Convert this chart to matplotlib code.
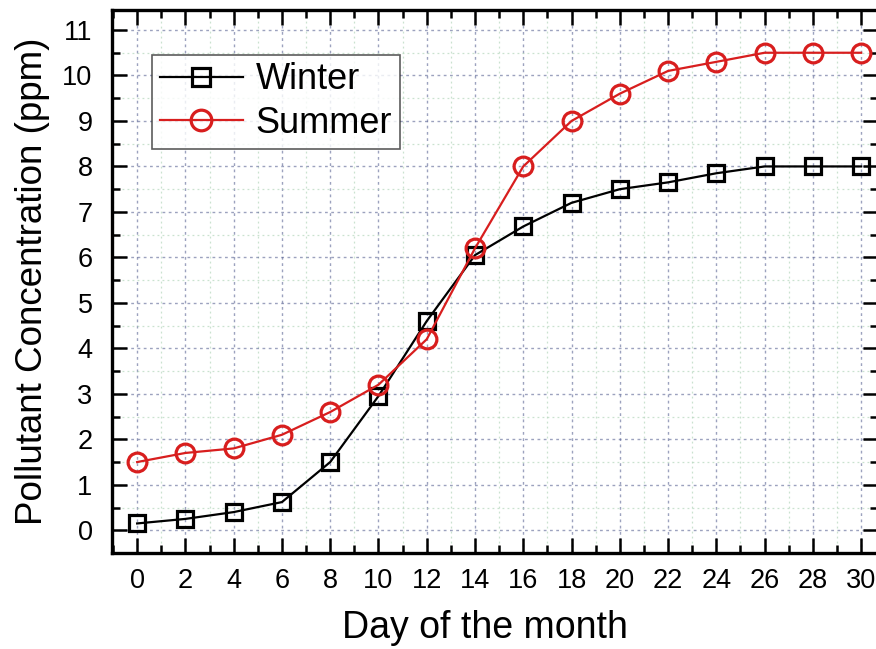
import matplotlib
matplotlib.use("Agg")
import matplotlib.pyplot as plt
from matplotlib.ticker import MultipleLocator

plt.rcParams['font.family'] = ['Liberation Sans', 'DejaVu Sans']

days = [0, 2, 4, 6, 8, 10, 12, 14, 16, 18, 20, 22, 24, 26, 28, 30]
winter = [0.15, 0.25, 0.4, 0.62, 1.5, 2.95, 4.6, 6.05, 6.68, 7.2, 7.5, 7.65, 7.85, 8.0, 8.0, 8.0]
summer = [1.5, 1.7, 1.8, 2.1, 2.6, 3.2, 4.2, 6.2, 8.0, 9.0, 9.6, 10.1, 10.3, 10.5, 10.5, 10.5]

fig = plt.figure(figsize=(8.76, 6.49), dpi=100)
ax = fig.add_axes([0.1279, 0.1479, 0.8744, 0.8367])

ax.plot(days, winter, color='black', lw=1.6, marker='s', ms=12,
        mfc='none', mec='black', mew=2.3, label='Winter', zorder=3)
ax.plot(days, summer, color='#d81e1e', lw=1.6, marker='o', ms=13.5,
        mfc='none', mec='#d81e1e', mew=2.3, label='Summer', zorder=3)

ax.set_xlim(-1.04, 30.7)
ax.set_ylim(-0.5, 11.44)
ax.xaxis.set_major_locator(MultipleLocator(2))
ax.xaxis.set_minor_locator(MultipleLocator(1))
ax.yaxis.set_major_locator(MultipleLocator(1))
ax.yaxis.set_minor_locator(MultipleLocator(0.5))

ax.grid(which='major', color='#5a6494', ls=(0, (2, 2.5)), lw=1.0, alpha=0.6)
ax.grid(which='minor', color='#a8d0b0', ls=(0, (1.5, 2.5)), lw=0.9, alpha=0.6)

ax.tick_params(which='both', direction='in', top=True, right=True, width=1.8)
ax.tick_params(which='major', length=11, labelsize=19.5)
ax.tick_params(axis='x', which='major', pad=11)
ax.tick_params(axis='y', which='major', pad=14)
ax.tick_params(which='minor', length=5.5)
for s in ax.spines.values():
    s.set_linewidth(2.4)

ax.set_xlabel('Day of the month', fontsize=27, labelpad=11)
ax.xaxis.set_label_coords(0.487, -0.105)
ax.set_ylabel('Pollutant Concentration (ppm)', fontsize=26.5, labelpad=9)

leg = ax.legend(loc='upper left', bbox_to_anchor=(0.052, 0.918), fontsize=26,
                frameon=True, fancybox=False, edgecolor='#333333',
                handlelength=2.3, handletextpad=0.35, borderpad=0.22,
                labelspacing=0.24, borderaxespad=0, markerscale=1.1)
leg.get_frame().set_linewidth(1.2)

fig.savefig('out.png', dpi=100)
